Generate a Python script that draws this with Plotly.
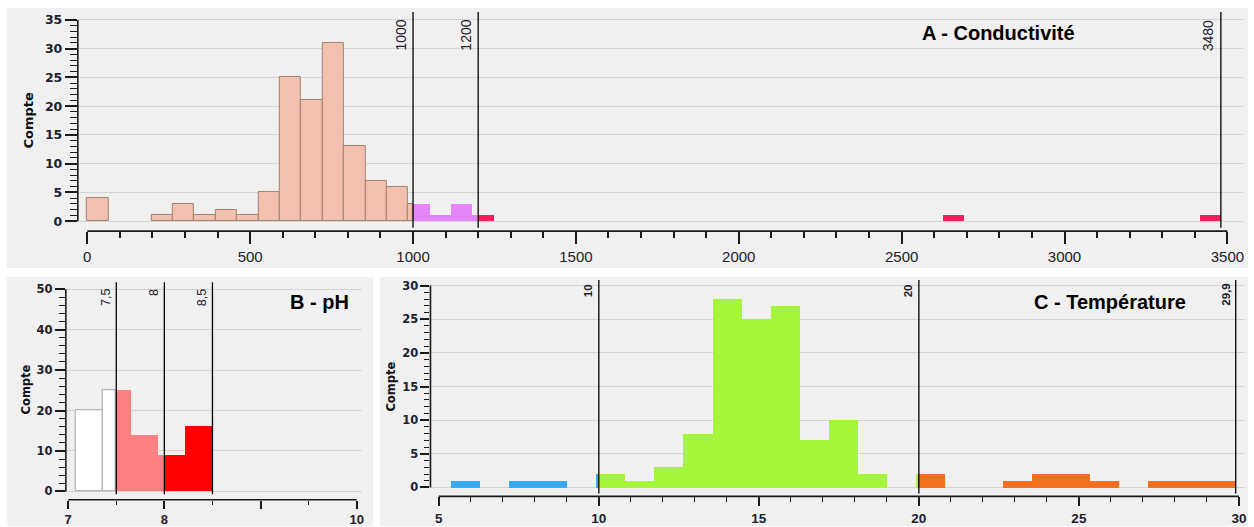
import plotly.graph_objects as go

W, H = 1254, 527

# ---------------- data ----------------
# A - Conductivité (histogram, 53 equal bins between min and max)
cond_bin_start = 0.0
cond_bin_end = 3480.0
cond_counts = [4, 0, 0, 1, 3, 1, 2, 1, 5, 25, 21, 31, 13, 7, 6, 3, 1, 3, 1,
               0, 0, 0, 0, 0, 0, 0, 0, 0, 0, 0, 0, 0, 0, 0, 0, 0, 0, 0, 0, 0,
               1, 0, 0, 0, 0, 0, 0, 0, 0, 0, 0, 0, 1]
cond_limits = [1000, 1200, 3480]
cond_limit_labels = ["1000", "1200", "3480"]
cond_title = "A - Conductivité"

# B - pH
ph_bin_start = 7.08
ph_bin_end = 8.5
ph_counts = [20, 25, 14, 9, 16]
ph_limits = [7.5, 8.0, 8.5]
ph_limit_labels = ["7,5", "8", "8,5"]
ph_title = "B - pH"

# C - Température
temp_bin_start = 5.4
temp_bin_end = 29.9
temp_counts = [1, 0, 1, 1, 0, 2, 1, 3, 8, 28, 25, 27, 7, 10, 2, 0, 2, 0, 0,
               1, 2, 2, 1, 0, 1, 1, 1]
temp_limits = [10, 20, 29.9]
temp_limit_labels = ["10", "20", "29,9"]
temp_title = "C - Température"

y_title = "Compte"

# ---------------- styles ----------------
PANEL_BG = "#f0f0f0"
GRID = "#d3d3d3"
TICKC = "#1a1a1a"
LABC = "#20202c"

cond_styles = [dict(color="#f2c1ad", line=dict(color="#a3816f", width=1)),
               dict(color="#e384f7", line=dict(width=0)),
               dict(color="#f4205c", line=dict(width=0))]
ph_styles = [dict(color="#ffffff", line=dict(color="#b3b3b3", width=1.2)),
             dict(color="#ff8080", line=dict(width=0)),
             dict(color="#ff0000", line=dict(width=0))]
temp_styles = [dict(color="#3aa9f5", line=dict(width=0)),
               dict(color="#a5f53b", line=dict(width=0)),
               dict(color="#f5701e", line=dict(width=0))]


def segments(start, end, counts, limits):
    """Split histogram bins at class limits -> one list of bar segments per class."""
    n = len(counts)
    w = (end - start) / n
    cuts = limits[:-1]
    out = [dict(x=[], w=[], y=[]) for _ in limits]
    for i, c in enumerate(counts):
        if c == 0:
            continue
        a, b = start + i * w, start + (i + 1) * w
        edges = [a] + [t for t in cuts if a < t < b] + [b]
        for lo, hi in zip(edges[:-1], edges[1:]):
            mid = (lo + hi) / 2
            k = sum(mid > t for t in cuts)
            out[k]["x"].append(mid)
            out[k]["w"].append(hi - lo)
            out[k]["y"].append(c)
    return out


fig = go.Figure()

panels = [
    dict(ax="", start=cond_bin_start, end=cond_bin_end, counts=cond_counts,
         limits=cond_limits, labels=cond_limit_labels, styles=cond_styles),
    dict(ax="2", start=ph_bin_start, end=ph_bin_end, counts=ph_counts,
         limits=ph_limits, labels=ph_limit_labels, styles=ph_styles),
    dict(ax="3", start=temp_bin_start, end=temp_bin_end, counts=temp_counts,
         limits=temp_limits, labels=temp_limit_labels, styles=temp_styles),
]

for p in panels:
    segs = segments(p["start"], p["end"], p["counts"], p["limits"])
    for seg, st in zip(segs, p["styles"]):
        if not seg["x"]:
            continue
        fig.add_trace(go.Bar(x=seg["x"], y=seg["y"], width=seg["w"],
                             marker=st, xaxis="x" + p["ax"], yaxis="y" + p["ax"],
                             showlegend=False, hoverinfo="x+y"))

# ---------------- layout ----------------
def px_dom_x(a, b):
    return [a / W, b / W]


def px_dom_y(top, bottom):
    return [1 - bottom / H, 1 - top / H]


common_x = dict(showgrid=False, zeroline=False, showline=False, ticks="outside",
                tickcolor=TICKC, tickwidth=1.5)
common_y = dict(showgrid=True, gridcolor=GRID, gridwidth=1.3, zeroline=False,
                showline=False, ticks="outside", tickcolor=TICKC, tickwidth=1.5)

fig.update_layout(
    width=W, height=H,
    margin=dict(l=0, r=0, t=0, b=0),
    paper_bgcolor="white", plot_bgcolor=PANEL_BG,
    barmode="overlay", bargap=0,
    showlegend=False,
    xaxis=dict(common_x, domain=px_dom_x(77, 1245), range=[-29.1, 3548], anchor="y",
               tickmode="linear", tick0=0, dtick=500, ticklen=12,
               minor=dict(tick0=0, dtick=100, ticks="outside", ticklen=6,
                          tickcolor=TICKC, tickwidth=1.5, showgrid=False),
               tickfont=dict(family="Liberation Sans", size=15, color=LABC)),
    yaxis=dict(common_y, domain=px_dom_y(11, 231), range=[-1.733, 36.39], anchor="x",
               tickvals=list(range(0, 36, 5)), ticklen=12,
               minor=dict(tickvals=list(range(0, 36)), ticks="outside", ticklen=7,
                          tickcolor=TICKC, tickwidth=1.3, showgrid=False),
               tickfont=dict(family="DejaVu Sans", size=12.5, color=LABC, weight=700)),
    xaxis2=dict(common_x, domain=px_dom_x(65, 362), range=[6.976, 10.056], anchor="y2",
                tickvals=[7, 8, 9, 10], ticktext=["7", "8", "", "10"], ticklen=8,
                minor=dict(tick0=7, dtick=0.5, ticks="outside", ticklen=4,
                           tickcolor=TICKC, tickwidth=1.3, showgrid=False),
                tickfont=dict(family="Liberation Sans", size=13, color=LABC, weight=700)),
    yaxis2=dict(common_y, domain=px_dom_y(282.3, 500.7), range=[-2.07, 51.72], anchor="x2",
                tickvals=list(range(0, 51, 10)), ticklen=10,
                minor=dict(tickvals=list(range(0, 51, 2)), ticks="outside", ticklen=6,
                           tickcolor=TICKC, tickwidth=1.3, showgrid=False),
                tickfont=dict(family="DejaVu Sans", size=11.5, color=LABC, weight=700)),
    xaxis3=dict(common_x, domain=px_dom_x(430.5, 1247.3), range=[4.74, 30.2], anchor="y3",
                tickmode="linear", tick0=5, dtick=5, ticklen=9,
                minor=dict(tick0=5, dtick=1, ticks="outside", ticklen=5,
                           tickcolor=TICKC, tickwidth=1.3, showgrid=False),
                tickfont=dict(family="Liberation Sans", size=13.5, color=LABC, weight=700)),
    yaxis3=dict(common_y, domain=px_dom_y(280, 497.3), range=[-1.33, 30.84], anchor="x3",
                tickvals=list(range(0, 31, 5)), ticklen=9,
                minor=dict(tickvals=list(range(0, 31)), ticks="outside", ticklen=5,
                           tickcolor=TICKC, tickwidth=1.3, showgrid=False),
                tickfont=dict(family="DejaVu Sans", size=11.5, color=LABC, weight=700)),
)

shapes = []
annotations = []

# panel backgrounds
for (x0, y0, x1, y1) in [(6, 7, 1250, 268), (6, 277, 373, 527), (380, 277, 1250, 527)]:
    shapes.append(dict(type="rect", xref="paper", yref="paper", layer="below",
                       x0=x0 / W, x1=x1 / W, y0=1 - y1 / H, y1=1 - y0 / H,
                       fillcolor=PANEL_BG, line=dict(width=0)))

axis_ext = [  # (axis suffix, x min, x max, y max)
    ("", 0, 3500, 35),
    ("2", 7, 10, 50),
    ("3", 5, 30, 30),
]
for ax, xmn, xmx, ymx in axis_ext:
    shapes.append(dict(type="line", xref="x" + ax + " domain", yref="y" + ax,
                       x0=0, x1=0, y0=0, y1=ymx, line=dict(color=TICKC, width=1.6)))
    shapes.append(dict(type="line", xref="x" + ax, yref="y" + ax + " domain",
                       x0=xmn, x1=xmx, y0=0, y1=0, line=dict(color=TICKC, width=1.6)))

line_bottom = {"": 0.015, "2": 0.026, "3": 0.014}
lim_font = {"": dict(family="Liberation Sans", size=14, color=LABC),
            "2": dict(family="Liberation Sans", size=12.5, color=LABC),
            "3": dict(family="Liberation Sans", size=11.5, color=LABC, weight=700)}
lim_yshift = {"": -6, "2": -5, "3": -2}
for p in panels:
    ax = p["ax"]
    for v, lab in zip(p["limits"], p["labels"]):
        shapes.append(dict(type="line", xref="x" + ax, yref="y" + ax + " domain",
                           x0=v, x1=v, y0=line_bottom[ax], y1=1,
                           line=dict(color="#000000", width=1.3)))
        annotations.append(dict(x=v, y=1, xref="x" + ax, yref="y" + ax + " domain",
                                text=lab, textangle=-90, showarrow=False,
                                xanchor="right", yanchor="top", xshift=-2,
                                yshift=lim_yshift[ax], font=lim_font[ax]))

# panel titles
for txt, cx, cy in [(cond_title, 1000, 32), (ph_title, 319, 302), (temp_title, 1112, 302)]:
    annotations.append(dict(x=cx / W, y=1 - cy / H, xref="paper", yref="paper",
                            text="<b>" + txt + "</b>", showarrow=False,
                            xanchor="center", yanchor="middle",
                            font=dict(family="Liberation Sans", size=20, color="#000000")))

# y-axis titles
for cx, cy, sz in [(28, 119, 13), (25, 390, 11.5), (390, 387, 11.5)]:
    annotations.append(dict(x=cx / W, y=1 - cy / H, xref="paper", yref="paper",
                            text=y_title, textangle=-90, showarrow=False,
                            xanchor="center", yanchor="middle",
                            font=dict(family="DejaVu Sans", size=sz, color="#111111",
                                      weight=700)))

fig.update_layout(shapes=shapes, annotations=annotations)
fig.write_html("out.html",
               config={"displayModeBar": False},
               post_script="document.body.style.margin='0';"
                           "document.body.style.padding='0';"
                           "document.body.style.overflow='hidden';")
